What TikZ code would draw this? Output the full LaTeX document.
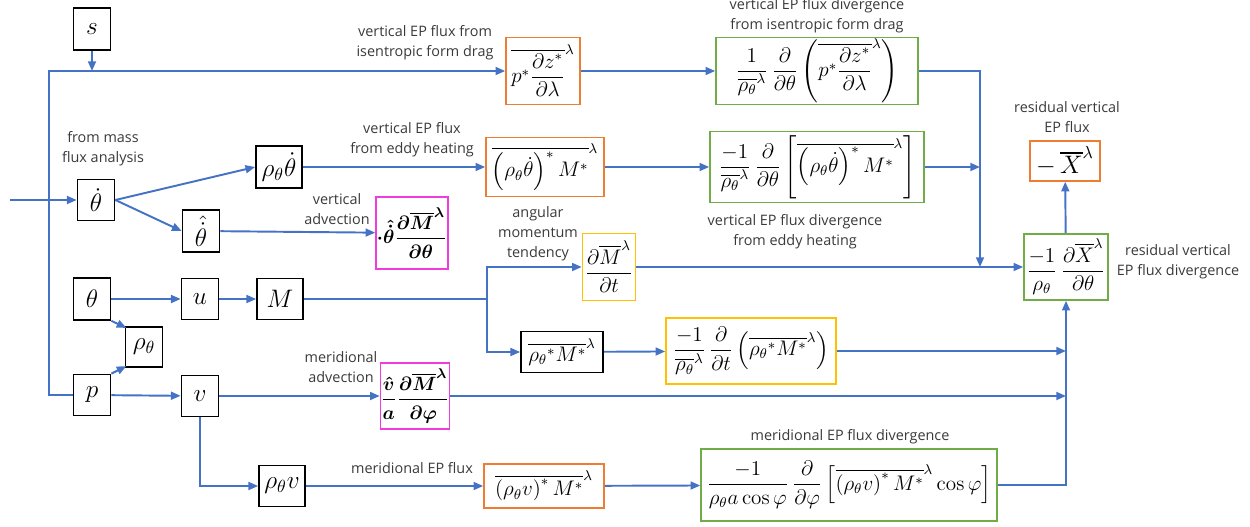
\documentclass[tikz,border=0pt]{standalone}
\usepackage{amsmath}
\usepackage{fontspec}
\newfontfamily\lblfont{Open Sans}
\usetikzlibrary{arrows.meta}
\definecolor{lnblue}{HTML}{4472C4}
\definecolor{bxorange}{HTML}{ED7D31}
\definecolor{bxgreen}{HTML}{70AD47}
\definecolor{bxyellow}{HTML}{FFC000}
\definecolor{bxmag}{HTML}{F03CDC}
\definecolor{txtgray}{HTML}{3A3A3A}
\tikzset{
  sz/.style 2 args={minimum width=#1*0.02cm, minimum height=#2*0.02cm},
  blk/.style={draw=black, line width=1pt, inner sep=0pt, font=\fontsize{14.4}{16}\selectfont},
  fbox/.style={draw=#1, line width=0.9pt, inner sep=0pt, font=\fontsize{12}{14}\selectfont},
  mbox/.style={draw=bxmag, line width=0.9pt, inner sep=0pt, font=\boldmath\fontsize{10.95}{13}\selectfont},
  lbl/.style={text=txtgray, align=center, font=\lblfont\fontsize{8.2}{11.3}\selectfont, inner sep=0pt},
  arr/.style={draw=lnblue, line width=1.1pt, -{Triangle[length=5.5pt,width=4.5pt]}},
  ln/.style={draw=lnblue, line width=1.1pt},
}
\begin{document}
\begin{tikzpicture}[x=0.02cm,y=-0.02cm]
\useasboundingbox (0,0) rectangle (1250,527);
% ---- nodes
\node[blk, sz={37}{42}] (s) at (92,29) {$s$};
\node[fbox=bxorange, sz={74}{67}] (pstar) at (543,71) {$\overline{p^*\dfrac{\partial z^*}{\partial\lambda}}^{\lambda}$};
\node[fbox=bxgreen, sz={202}{67}] (gr1) at (817,71) {$\dfrac{1}{\overline{\rho_\theta}^{\lambda}}\,\dfrac{\partial}{\partial\theta}\left(\overline{p^*\dfrac{\partial z^*}{\partial\lambda}}^{\lambda}\right)$};
\node[blk, sz={37}{41}] (thd) at (96,200) {$\dot\theta$};
\node[blk, sz={46}{42}] (rtd) at (279,167) {$\rho_\theta\dot\theta$};
\node[blk, sz={37}{42}] (hthd) at (201,231) {$\hat{\dot\theta}$};
\node[fbox=bxorange, sz={118}{59}] (or2) at (545,167) {$\overline{\left(\rho_\theta\dot\theta\right)^{*}M^{*}}^{\lambda}$};
\node[fbox=bxgreen, sz={214}{71}] (gr2) at (817,167) {$\dfrac{-1}{\overline{\rho_\theta}^{\lambda}}\,\dfrac{\partial}{\partial\theta}\left[\overline{\left(\rho_\theta\dot\theta\right)^{*}M^{*}}^{\lambda}\right]$};
\node[mbox, sz={72}{72}] (mg1) at (412,233) {${\cdot}\hat{\dot\theta}\dfrac{\partial\overline{M}^{\lambda}}{\partial\theta}$};
\node[blk, sz={37}{42}] (th) at (92,299) {$\theta$};
\node[blk, sz={37}{41}] (u) at (200,299) {$u$};
\node[blk, sz={46}{41}] (M) at (280,299) {$M$};
\node[blk, sz={37}{40}] (rho) at (144,347) {$\rho_\theta$};
\node[fbox=bxyellow, sz={53}{67}] (dMdt) at (609,267) {$\dfrac{\partial\overline{M}^{\lambda}}{\partial t}$};
\node[blk, sz={82}{41}, font=\fontsize{12}{14}\selectfont] (rsm) at (562,352) {$\overline{{\rho_\theta}^{*}M^{*}}^{\lambda}$};
\node[fbox=bxyellow, sz={170}{66}] (ye2) at (751,351) {$\dfrac{-1}{\overline{\rho_\theta}^{\lambda}}\,\dfrac{\partial}{\partial t}\left(\overline{{\rho_\theta}^{*}M^{*}}^{\lambda}\right)$};
\node[blk, sz={37}{41}] (p) at (92,395) {$p$};
\node[blk, sz={37}{41}] (v) at (200,396) {$v$};
\node[mbox, sz={69}{66}] (mg2) at (415,396) {$\dfrac{\hat v}{a}\dfrac{\partial\overline{M}^{\lambda}}{\partial\varphi}$};
\node[blk, sz={46}{41}] (rv) at (282,486) {$\rho_\theta v$};
\node[fbox=bxorange, sz={120}{44}] (or3) at (544,486) {$\overline{\left(\rho_\theta v\right)^{*}M^{*}}^{\lambda}$};
\node[fbox=bxgreen, sz={296}{72}] (gr3) at (849,485) {$\dfrac{-1}{\rho_\theta a\cos\varphi}\,\dfrac{\partial}{\partial\varphi}\left[\overline{\left(\rho_\theta v\right)^{*}M^{*}}^{\lambda}\cos\varphi\right]$};
\node[fbox=bxgreen, sz={84}{66}] (res) at (1066,267) {$\dfrac{-1}{\rho_\theta}\,\dfrac{\partial\overline{X}^{\lambda}}{\partial\theta}$};
\node[fbox=bxorange, sz={70}{40}, font=\fontsize{14.4}{16}\selectfont] (mX) at (1065,161) {$-\,\overline{X}^{\lambda}$};
% ---- labels
\node[lbl] (l1) at (425,43) {vertical EP flux from\\isentropic form drag};
\node[lbl] (l2) at (817,16) {vertical EP flux divergence\\from isentropic form drag};
\node[lbl] (l3) at (103,149) {from mass\\flux analysis};
\node[lbl] (l4) at (412,140) {vertical EP flux\\from eddy heating};
\node[lbl] (l5) at (337,209) {vertical\\advection};
\node[lbl] (l6) at (795,232) {vertical EP flux divergence\\from eddy heating};
\node[lbl] (l7) at (538,234) {angular\\momentum\\tendency};
\node[lbl] (l8) at (1067,117) {residual vertical\\EP flux};
\node[lbl] (l9) at (1178,262) {residual vertical\\EP flux divergence};
\node[lbl] (l10) at (341,367) {meridional\\advection};
\node[lbl] (l11) at (412,468) {meridional EP flux};
\node[lbl] (l12) at (850,437) {meridional EP flux divergence};
% ---- coordinates
\coordinate (L) at (49,71);
\coordinate (in) at (10,200);
\coordinate (V1) at (980,71);
\coordinate (J) at (487,299);
\coordinate (R) at (1066,485);
% ---- connectors
\draw[arr] (s.south) -- (s.south |- pstar.west);
\draw[arr] (p.west) -- (p.west -| L) -- (L) -- (pstar.west);
\draw[arr] (pstar) -- (gr1);
\draw[arr] (gr1.east) -- (V1) -- (V1 |- dMdt.east);
\draw[arr] (in) -- (thd.west);
\draw[arr] (thd.east) -- (rtd.west);
\draw[arr] (thd.east) -- (hthd.west);
\draw[arr] (rtd) -- (or2);
\draw[arr] (or2) -- (gr2);
\draw[arr] (gr2.east) -- (gr2.east -| V1);
\draw[arr] (hthd) -- (mg1);
\draw[arr] (th) -- (u);
\draw[arr] (u) -- (M);
\draw[arr] (th.south east) -- ([xshift=1pt,yshift=-1pt]rho.north west);
\draw[arr] (p.north east) -- ([xshift=1pt,yshift=1pt]rho.south west);
\draw[ln] (M.east) -- (J);
\draw[arr] (J) |- (dMdt.west);
\draw[arr] (J) |- (rsm.west);
\draw[arr] (rsm) -- (ye2);
\draw[arr] (dMdt) -- (res);
\draw[arr] (ye2.east) -- (ye2.east -| res.south);
\draw[arr] (p) -- (v);
\draw[arr] (v) -- (mg2);
\draw[arr] (mg2.east) -- (mg2.east -| res.south);
\draw[arr] (v.south) |- (rv.west);
\draw[arr] (rv) -- (or3);
\draw[arr] (or3) -- (gr3);
\draw[arr] (gr3.east) -- (R) -- (res.south);
\draw[arr] (res) -- (mX);
\end{tikzpicture}
\end{document}
